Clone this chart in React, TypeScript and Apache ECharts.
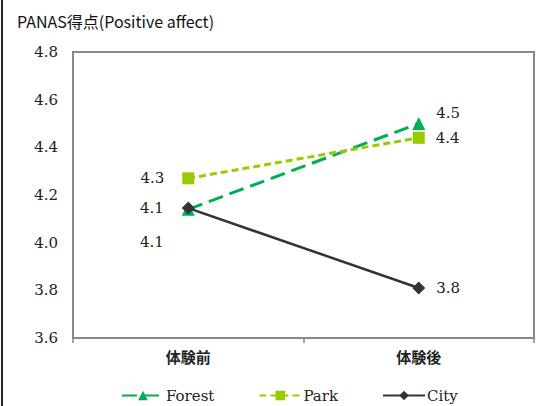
import React, { useEffect, useRef } from "react";
import * as echarts from "echarts";

const categories = ["体験前", "体験後"];
const forest = [4.14, 4.5];
const park = [4.27, 4.44];
const city = [4.145, 3.81];
const yMin = 3.6;
const yMax = 4.8;
const yStep = 0.2;
const titleText = "PANAS得点(Positive affect)";

const serif = "DejaVu Serif";
const cjk = "Noto Sans CJK JP";

export default function App() {
  const ref = useRef<HTMLDivElement>(null);
  useEffect(() => {
    if (!ref.current) return;
    const chart = echarts.init(ref.current, null, { renderer: "svg" });
    const fmt = (p: any) => Number(p.value).toFixed(1);
    const labelBase = {
      show: true,
      fontFamily: serif,
      fontSize: 15,
      color: "#222",
      formatter: fmt,
    };
    const mkData = (arr: number[]) =>
      arr.map((v, i) =>
        i === 1 ? { value: v, label: { position: "right", distance: 11 } } : { value: v }
      );
    chart.setOption({
      animation: false,
      backgroundColor: "#fff",
      title: {
        text: titleText,
        left: 12,
        top: 8,
        textStyle: { fontFamily: cjk, fontSize: 16, fontWeight: "normal", color: "#111" },
      },
      graphic: [
        { type: "line", shape: { x1: 2, y1: 0, x2: 2, y2: 406 }, style: { stroke: "#222", lineWidth: 2 } },
      ],
      grid: {
        left: 73,
        right: 8,
        top: 52,
        bottom: 68,
        show: true,
        borderColor: "#888",
        borderWidth: 2,
      },
      legend: {
        left: 116,
        top: 383,
        itemWidth: 42,
        itemHeight: 12,
        itemGap: 44,
        textStyle: { fontFamily: serif, fontSize: 15, color: "#222", padding: [0, 0, 0, -3] },
        data: ["Forest", "Park", "City"],
      },
      xAxis: {
        type: "category",
        data: categories,
        boundaryGap: true,
        axisLine: { lineStyle: { color: "#888", width: 2 } },
        axisTick: { show: true, length: 5, lineStyle: { color: "#888", width: 1.5 } },
        axisLabel: { fontFamily: cjk, fontWeight: "bold", fontSize: 15, color: "#222", margin: 11 },
      },
      yAxis: {
        type: "value",
        min: yMin,
        max: yMax,
        interval: yStep,
        splitLine: { show: false },
        axisLine: { show: true, lineStyle: { color: "#888", width: 2 } },
        axisTick: { show: false },
        axisLabel: {
          fontFamily: serif,
          fontSize: 15,
          color: "#222",
          margin: 15,
          formatter: (v: number) => v.toFixed(1),
        },
      },
      series: [
        {
          name: "Forest",
          type: "line",
          data: mkData(forest),
          symbol: "triangle",
          symbolSize: 13,
          itemStyle: { color: "#00B050" },
          lineStyle: { color: "#00B050", width: 3, type: [15, 7] },
          label: { ...labelBase, position: "left", distance: 18 },
          labelLayout: (params: any) =>
            params.dataIndex === 0 ? { dy: 33 } : { dy: -11 },
        },
        {
          name: "Park",
          type: "line",
          data: mkData(park),
          symbol: "rect",
          symbolSize: 12,
          itemStyle: { color: "#99CC00" },
          lineStyle: { color: "#99CC00", width: 3, type: [7, 4] },
          label: { ...labelBase, position: "left", distance: 18 },
        },
        {
          name: "City",
          type: "line",
          data: mkData(city),
          symbol: "diamond",
          symbolSize: 13,
          itemStyle: { color: "#333" },
          lineStyle: { color: "#333", width: 2.5 },
          label: { ...labelBase, position: "left", distance: 18 },
        },
      ],
    });
    return () => chart.dispose();
  }, []);
  return (
    <div
      ref={ref}
      style={{ position: "absolute", left: 0, top: 0, width: 542, height: 406 }}
    />
  );
}
